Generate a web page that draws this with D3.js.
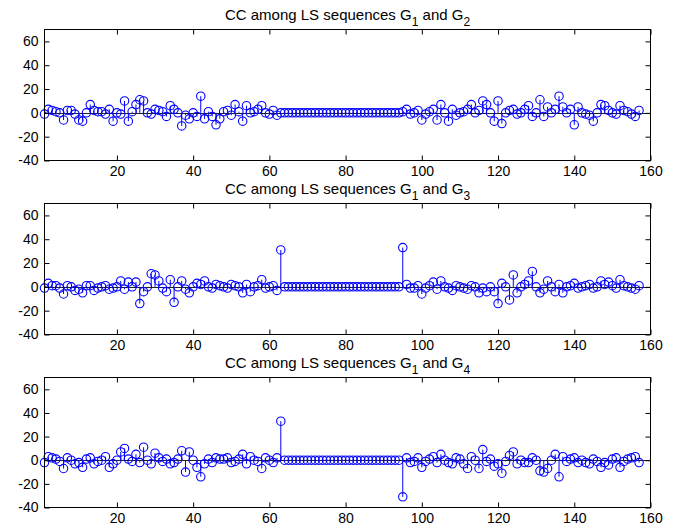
<!DOCTYPE html>
<html><head><meta charset="utf-8">
<script src="https://cdn.jsdelivr.net/npm/d3@7"></script>
<style>
html,body{margin:0;padding:0;background:#fff;}
svg text{font-family:"Liberation Sans",Arial,Helvetica,sans-serif;}
</style></head>
<body>
<svg id="chart" width="679" height="531"></svg>
<script>
// ---- data ----
const lags = d3.range(1, 158); // lag index 1..157
const xTicks = [20, 40, 60, 80, 100, 120, 140, 160];
const yTicks = [-40, -20, 0, 20, 40, 60];
const titles = [["CC among LS sequences G", "1", " and G", "2"],
                ["CC among LS sequences G", "1", " and G", "3"],
                ["CC among LS sequences G", "1", " and G", "4"]];
const ccG1G2 = [
 -1,3,2,1,0,-6,2,2,-1,-6, -7,0,7,2,1,1,-1,3,-7,0, -1,10,-7,1,7,11,10,0,-1,3,
 2,1,-3,6,3,0,-11,-2,-5,0, -3,14,-5,1,-3,-10,-5,1,2,-2, 7,1,-7,6,0,1,3,6,0,-1,
 2,-2,0,
 0,0,0,0,0,0,0,0,0,0, 0,0,0,0,0,0,0,0,0,0, 0,0,0,0,0,0,0,0,0,0, 0,
 1,3,-1,0,2,-6,-1,1,3,-6, 7,0,-7,3,-2,0,1,3,7,0, 2,10,7,0,-7,10,-9,0,2,3,
 -1,0,3,6,-3,0,11,-3,5,0, 3,14,5,0,3,-10,5,0,-1,-2, -7,0,7,6,2,0,-1,6,2,1,
 -1,-3,2];
const ccG1G3 = [
 -1,3,1,1,-1,-6,1,0,-3,-2, -5,1,1,-3,-1,0,1,-2,-1,0, 5,-2,4,0,4,-14,-4,0,11,10,
 5,-1,-4,6,-13,0,5,-2,-5,0, 3,2,5,0,-1,2,1,0,-1,2, 1,0,-5,2,-4,0,1,6,-1,0,
 1,-3,31,
 0,0,0,0,0,0,0,0,0,0, 0,0,0,0,0,0,0,0,0,0, 0,0,0,0,0,0,0,0,0,0, 0,
 33,2,-1,-1,1,-6,-1,1,4,-2, 5,0,-1,-3,1,0,-1,-2,1,0, -5,-1,-4,0,-4,-14,3,0,-11,10,
 -5,0,2,5,13,0,-5,-2,5,0, -4,2,-5,0,1,3,-1,0,1,2, -1,0,5,2,4,1,-1,6,1,0,
 -1,-2,1];
const ccG1G4 = [
 -2,3,2,1,-1,-7,2,0,-3,-2, -6,1,2,-3,-1,0,3,-6,-3,0, 7,10,1,-1,5,-2,11,0,-3,6,
 2,-1,1,-3,-2,1,8,-10,7,0, -6,-14,-3,1,-2,2,1,1,2,-2, -1,1,5,-3,3,0,-1,-7,2,0,
 -2,2,33,
 0,0,0,0,0,0,0,0,0,0, 0,0,0,0,0,0,0,0,0,0, 0,0,0,0,0,0,0,0,0,0, 0,
 -31,2,-2,-1,2,-6,-1,1,3,-2, 5,0,-2,-3,2,1,-3,-7,3,0, -7,9,-1,1,-5,-3,-11,-1,4,7,
 -3,0,-2,-2,2,0,-9,-10,-7,0, 5,-14,3,-1,1,2,-2,0,-2,-3, 1,-1,-6,-2,-4,1,2,-6,-1,1,
 2,3,-2];
const series = [ccG1G2, ccG1G3, ccG1G4];

// ---- layout ----
const svg = d3.select("#chart");
const left = 44.5, right = 650.5;
const panels = [{top: 29.5, bottom: 160.5}, {top: 203.5, bottom: 334.5}, {top: 377.5, bottom: 507.5}];
const x = d3.scaleLinear().domain([1, 160]).range([left, right]);
const blue = "#0000ff";

panels.forEach((p, k) => {
  const y = d3.scaleLinear().domain([-40, 70]).range([p.bottom, p.top]);
  const g = svg.append("g");
  const vals = series[k];
  const pts = lags.map((l, i) => ({l, v: vals[i]}));

  // baseline
  g.append("line").attr("x1", left).attr("x2", right)
    .attr("y1", Math.round(y(0)) + 0.5).attr("y2", Math.round(y(0)) + 0.5)
    .attr("stroke", "#222").attr("stroke-width", 1);

  // stems
  g.selectAll("line.stem").data(pts.filter(d => d.v !== 0)).join("line")
    .attr("class", "stem")
    .attr("x1", d => x(d.l)).attr("x2", d => x(d.l))
    .attr("y1", y(0)).attr("y2", d => y(d.v))
    .attr("stroke", blue).attr("stroke-width", 1);

  // markers
  g.selectAll("circle").data(pts).join("circle")
    .attr("cx", d => x(d.l)).attr("cy", d => y(d.v)).attr("r", 4.2)
    .attr("fill", "none").attr("stroke", blue).attr("stroke-width", 1.1);

  // axes
  const fs = "14px";
  const ax = g.append("g").attr("transform", `translate(0,${p.bottom})`)
    .call(d3.axisBottom(x).tickValues(xTicks).tickSizeInner(-5).tickSizeOuter(0).tickPadding(6));
  const axT = g.append("g").attr("transform", `translate(0,${p.top})`)
    .call(d3.axisTop(x).tickValues(xTicks).tickSizeInner(-5).tickSizeOuter(0).tickFormat(""));
  const ay = g.append("g").attr("transform", `translate(${left},0)`)
    .call(d3.axisLeft(y).tickValues(yTicks).tickSizeInner(-5).tickSizeOuter(0).tickPadding(6));
  const ayR = g.append("g").attr("transform", `translate(${right},0)`)
    .call(d3.axisRight(y).tickValues(yTicks).tickSizeInner(-5).tickSizeOuter(0).tickFormat(""));
  [ax, axT, ay, ayR].forEach(a => {
    a.select(".domain").remove();
    a.selectAll("line").attr("stroke", "#000");
    a.selectAll("text").attr("fill", "#000").style("font-size", fs)
      .style("font-family", "'Liberation Sans', Arial, sans-serif");
  });
  ay.selectAll("text").text(d => d < 0 ? "-" + Math.abs(d) : d);

  // box
  g.append("rect").attr("x", left).attr("y", p.top)
    .attr("width", right - left).attr("height", p.bottom - p.top)
    .attr("fill", "none").attr("stroke", "#000").attr("stroke-width", 1);

  // title
  const t = titles[k];
  const tt = g.append("text").attr("x", (left + right) / 2).attr("y", p.top - 10)
    .attr("text-anchor", "middle").style("font-size", "15px").attr("fill", "#000");
  tt.append("tspan").text(t[0]);
  tt.append("tspan").text(t[1]).attr("dy", 6).style("font-size", "12px");
  tt.append("tspan").text(t[2]).attr("dy", -6);
  tt.append("tspan").text(t[3]).attr("dy", 6).style("font-size", "12px");
});
</script>
</body></html>
